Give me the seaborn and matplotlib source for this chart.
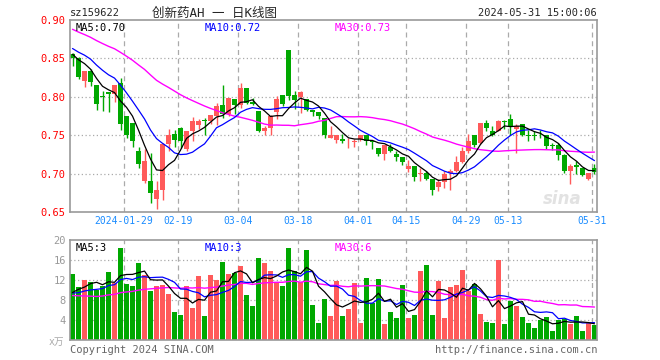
import numpy as np
import pandas as pd
import matplotlib
matplotlib.use("Agg")
import matplotlib.pyplot as plt
import seaborn as sns

# daily bars of sz159622, 2024-01-16 .. 2024-05-31 (88 trading days)
opens = [0.856, 0.851, 0.821, 0.833, 0.815, 0.800, 0.806, 0.803, 0.818, 0.775,
         0.766, 0.730, 0.690, 0.691, 0.667, 0.679, 0.738, 0.752, 0.760, 0.732,
         0.755, 0.763, 0.769, 0.768, 0.775, 0.789, 0.778, 0.797, 0.789, 0.811,
         0.793, 0.781, 0.755, 0.760, 0.780, 0.802, 0.861, 0.802, 0.800, 0.797,
         0.783, 0.780, 0.772, 0.746, 0.744, 0.745, 0.7405, 0.7415, 0.745, 0.750,
         0.743, 0.733, 0.725, 0.735, 0.725, 0.721, 0.706, 0.710, 0.700, 0.701,
         0.693, 0.682, 0.689, 0.701, 0.704, 0.715, 0.729, 0.750, 0.740, 0.766,
         0.755, 0.755, 0.768, 0.771, 0.758, 0.764, 0.750, 0.750, 0.7515, 0.750,
         0.736, 0.737, 0.724, 0.7035, 0.711, 0.707, 0.693, 0.707]
highs = [0.857, 0.852, 0.833, 0.836, 0.815, 0.808, 0.806, 0.815, 0.825, 0.775,
         0.766, 0.734, 0.732, 0.727, 0.691, 0.740, 0.758, 0.757, 0.761, 0.755,
         0.774, 0.771, 0.773, 0.776, 0.792, 0.816, 0.798, 0.797, 0.818, 0.811,
         0.798, 0.781, 0.762, 0.776, 0.801, 0.802, 0.861, 0.808, 0.808, 0.797,
         0.783, 0.780, 0.772, 0.762, 0.750, 0.752, 0.747, 0.745, 0.750, 0.750,
         0.743, 0.733, 0.737, 0.739, 0.729, 0.721, 0.718, 0.710, 0.707, 0.704,
         0.693, 0.693, 0.704, 0.706, 0.723, 0.735, 0.751, 0.750, 0.766, 0.770,
         0.762, 0.770, 0.770, 0.777, 0.764, 0.764, 0.757, 0.756, 0.757, 0.750,
         0.740, 0.740, 0.726, 0.713, 0.717, 0.707, 0.701, 0.712]
lows = [0.840, 0.823, 0.813, 0.814, 0.783, 0.781, 0.780, 0.793, 0.757, 0.746,
        0.734, 0.707, 0.688, 0.662, 0.654, 0.666, 0.729, 0.735, 0.733, 0.730,
        0.742, 0.758, 0.750, 0.764, 0.763, 0.773, 0.775, 0.778, 0.786, 0.790,
        0.789, 0.754, 0.750, 0.750, 0.771, 0.788, 0.796, 0.784, 0.779, 0.781,
        0.775, 0.771, 0.746, 0.746, 0.740, 0.740, 0.733, 0.734, 0.743, 0.737,
        0.732, 0.723, 0.718, 0.728, 0.717, 0.711, 0.702, 0.691, 0.690, 0.692,
        0.672, 0.677, 0.681, 0.679, 0.702, 0.714, 0.727, 0.735, 0.738, 0.755,
        0.749, 0.755, 0.758, 0.750, 0.727, 0.749, 0.742, 0.744, 0.747, 0.732,
        0.731, 0.718, 0.701, 0.686, 0.700, 0.697, 0.692, 0.700]
closes = [0.851, 0.826, 0.833, 0.819, 0.791, 0.7995, 0.803, 0.815, 0.764, 0.750,
          0.742, 0.712, 0.716, 0.675, 0.679, 0.738, 0.750, 0.744, 0.742, 0.755,
          0.768, 0.768, 0.768, 0.776, 0.788, 0.778, 0.798, 0.789, 0.811, 0.792,
          0.791, 0.755, 0.759, 0.775, 0.797, 0.791, 0.801, 0.796, 0.806, 0.783,
          0.780, 0.775, 0.750, 0.750, 0.750, 0.742, 0.741, 0.742, 0.750, 0.742,
          0.741, 0.725, 0.737, 0.730, 0.721, 0.715, 0.710, 0.695, 0.7005, 0.693,
          0.678, 0.689, 0.700, 0.7035, 0.715, 0.729, 0.743, 0.737, 0.766, 0.759,
          0.750, 0.768, 0.767, 0.762, 0.762, 0.750, 0.7495, 0.7495, 0.751, 0.736,
          0.7355, 0.724, 0.7035, 0.710, 0.708, 0.698, 0.701, 0.702]
volumes = [13.2, 10.7, 12.0, 11.7, 10.1, 10.8, 13.6, 11.5, 18.4, 11.2,
           10.9, 15.4, 13.0, 9.8, 10.8, 11.1, 9.2, 5.6, 5.0, 10.8,
           6.4, 12.8, 4.8, 13.0, 12.0, 15.6, 13.2, 13.5, 14.8, 9.0,
           6.8, 16.4, 15.4, 13.8, 11.6, 10.8, 18.4, 13.8, 11.6, 18.0,
           7.0, 3.4, 8.2, 4.8, 11.8, 4.8, 6.2, 11.4, 3.4, 12.4,
           7.4, 12.2, 3.2, 5.6, 4.4, 11.0, 4.4, 5.0, 13.8, 15.0,
           5.0, 11.8, 4.4, 10.6, 11.0, 14.0, 9.8, 11.2, 5.2, 3.6,
           3.4, 16.0, 3.2, 7.8, 6.8, 4.6, 3.4, 2.4, 4.0, 4.6,
           1.8, 4.0, 4.2, 3.2, 4.8, 1.8, 3.4, 3.0]

# 29 days before the window, estimated from where the moving averages start
prior_closes = [0.935, 0.930, 0.925, 0.920, 0.915, 0.912, 0.910, 0.905, 0.900,
                0.900, 0.895, 0.890, 0.892, 0.888, 0.885, 0.882, 0.886, 0.884,
                0.878, 0.876, 0.874, 0.872, 0.870, 0.869, 0.867, 0.862, 0.858,
                0.855, 0.851]
prior_volumes = [12.5, 13.0, 12.8, 12.0, 8.0, 7.2, 7.9, 8.4, 6.9, 7.5,
                 7.8, 8.1, 7.0, 7.6, 8.2, 7.4, 7.9, 7.3, 7.8, 7.7,
                 10.2, 8.5, 9.6, 8.9, 9.3, 7.5, 9.8, 8.2, 8.8]

tick_idx = [9, 18, 28, 38, 48, 56, 66, 73, 87]
tick_labels = ["2024-01-29", "02-19", "03-04", "03-18", "04-01",
               "04-15", "04-29", "05-13", "05-31"]

RED = "#ff5a5a"
GREEN = "#00a800"
GRID = "#aaaaaa"
MONO = "DejaVu Sans Mono"

sns.set_style("white")
plt.rcParams["font.family"] = [MONO, "Noto Sans CJK SC"]

n = len(closes)
x = np.arange(n)
o = np.array(opens)
c = np.array(closes)
up = c > o
colors = np.where(up, RED, GREEN)

all_close = pd.Series(prior_closes + closes)
all_vol = pd.Series(prior_volumes + volumes)
k = len(prior_closes)
df = pd.DataFrame({
    "x": x,
    "vol": volumes,
    "dir": np.where(up, "up", "down"),
    "ma5": all_close.rolling(5).mean().values[k:],
    "ma10": all_close.rolling(10).mean().values[k:],
    "ma30": all_close.rolling(30).mean().values[k:],
    "vma5": all_vol.rolling(5).mean().values[k:],
    "vma10": all_vol.rolling(10).mean().values[k:],
    "vma30": all_vol.rolling(30).mean().values[k:],
})

W, H = 660, 360
fig = plt.figure(figsize=(6.6, 3.6), dpi=100)
ax = fig.add_axes([70 / W, 1 - 212 / H, 527 / W, 192 / H])
axv = fig.add_axes([70 / W, 1 - 340 / H, 527 / W, 100 / H])

xlim = (-0.42, n - 1 + 0.42)
grid_x = [i - 0.4 for i in tick_idx]

# ---- price panel
ax.vlines(x, lows, highs, colors=colors, lw=1)
body_lo = np.minimum(o, c)
body_h = np.maximum(np.abs(c - o), 0.0012)
ax.bar(x, body_h, bottom=body_lo, width=0.82, color=colors, linewidth=0)

sns.lineplot(data=df, x="x", y="ma30", color="#ff00ff", lw=1, ax=ax)
sns.lineplot(data=df, x="x", y="ma10", color="#0000ff", lw=0.9, ax=ax)
sns.lineplot(data=df, x="x", y="ma5", color="black", lw=0.9, ax=ax)

for gy in [0.70, 0.75, 0.80, 0.85]:
    ax.axhline(gy, color=GRID, lw=0.9, ls=(0, (1, 2)), zorder=0)
for gx in grid_x:
    ax.axvline(gx, color=GRID, lw=0.9, ls=(0, (4, 3)), zorder=0)

ax.set_xlim(*xlim)
ax.set_ylim(0.65, 0.90)
ax.set_yticks([0.65, 0.70, 0.75, 0.80, 0.85, 0.90])
ax.set_yticklabels(["0.65", "0.70", "0.75", "0.80", "0.85", "0.90"],
                   color="red", fontsize=7.5, family=MONO)
ax.set_xticks(grid_x)
ax.set_xticklabels(tick_labels, color="#1a8cff", fontsize=7, family=MONO)
ax.tick_params(length=0, pad=3)
ax.set_xlabel("")
ax.set_ylabel("")

ax.text(0.01, 0.985, "MA5:0.70", transform=ax.transAxes, va="top",
        fontsize=7.5, color="black", family=MONO)
ax.text(135 / 527, 0.985, "MA10:0.72", transform=ax.transAxes, va="top",
        fontsize=7.5, color="#0000ff", family=MONO)
ax.text(265 / 527, 0.985, "MA30:0.73", transform=ax.transAxes, va="top",
        fontsize=7.5, color="#ff00ff", family=MONO)
ax.text(0.97, 0.07, "sina", transform=ax.transAxes, ha="right", va="center",
        fontsize=12, color="#e2e2e2", fontweight="bold", style="italic",
        family="DejaVu Sans", zorder=0)

# ---- volume panel
sns.barplot(data=df, x="x", y="vol", hue="dir", palette={"up": RED, "down": GREEN},
            native_scale=True, dodge=False, width=0.83, saturation=1,
            linewidth=0, legend=False, ax=axv)
sns.lineplot(data=df, x="x", y="vma30", color="#ff00ff", lw=1, ax=axv)
sns.lineplot(data=df, x="x", y="vma10", color="#0000ff", lw=0.9, ax=axv)
sns.lineplot(data=df, x="x", y="vma5", color="black", lw=0.9, ax=axv)

for gy in [4, 8, 12, 16]:
    axv.axhline(gy, color=GRID, lw=0.9, ls=(0, (1, 2)), zorder=0)
for gx in grid_x:
    axv.axvline(gx, color=GRID, lw=0.9, ls=(0, (4, 3)), zorder=0)

axv.set_xlim(*xlim)
axv.set_ylim(0, 20)
axv.set_yticks([4, 8, 12, 16, 20])
axv.set_yticklabels(["4", "8", "12", "16", "20"], color="#999999",
                    fontsize=7.5, family=MONO)
axv.set_xticks([])
axv.tick_params(length=0, pad=3)
axv.set_xlabel("")
axv.set_ylabel("")

axv.text(0.01, 0.97, "MA5:3", transform=axv.transAxes, va="top",
         fontsize=7.5, color="black", family=MONO)
axv.text(135 / 527, 0.97, "MA10:3", transform=axv.transAxes, va="top",
         fontsize=7.5, color="#0000ff", family=MONO)
axv.text(265 / 527, 0.97, "MA30:6", transform=axv.transAxes, va="top",
         fontsize=7.5, color="#ff00ff", family=MONO)

for a in (ax, axv):
    for s in a.spines.values():
        s.set_color("#999999")
        s.set_linewidth(1.2)

# ---- header / footer
fig.text(70 / W, 1 - 13 / H, "sz159622", fontsize=7.5, va="center", family=MONO)
fig.text(214 / W, 1 - 13 / H, "创新药AH 一 日K线图", fontsize=9, va="center",
         ha="center", family=[MONO, "Noto Sans CJK SC"])
fig.text(597 / W, 1 - 13 / H, "2024-05-31 15:00:06", fontsize=7.5, va="center",
         ha="right", family=MONO)
fig.text(64 / W, 1 - 342 / H, "x万", fontsize=7, va="center", ha="right",
         color="#aaaaaa", family=[MONO, "Noto Sans CJK SC"])
fig.text(70 / W, 1 - 350 / H, "Copyright 2024 SINA.COM", fontsize=7.5,
         va="center", color="#666666", family=MONO)
fig.text(597 / W, 1 - 350 / H, "http://finance.sina.com.cn", fontsize=7.5,
         va="center", ha="right", color="#666666", family=MONO)

fig.savefig("out.png", dpi=100)
